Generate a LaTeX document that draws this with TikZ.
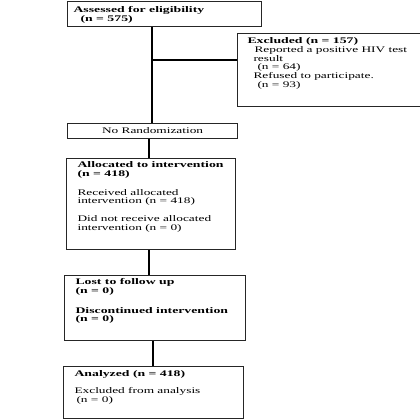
\documentclass[tikz,border=0pt]{standalone}
\usepackage{fontspec}
\setmainfont{Liberation Serif}[FakeStretch=1.55,BoldFeatures={FakeStretch=1.6}]
\newcommand\cbx[5]{%
  \begin{minipage}[t][#2][t]{#1}\raggedright\leftskip=#3\relax
  \fontsize{8.6bp}{8.8bp}\selectfont\rule{0pt}{#4}#5\end{minipage}}
\begin{document}
\begin{tikzpicture}[x=1bp,y=-1bp,
  box/.style={draw=black!85, line width=1.1bp, inner sep=0pt, anchor=north west},
  link/.style={draw=black, line width=1.3bp}]
\useasboundingbox[fill=white] (0,0) rectangle (420,420);
\node[box] (assess) at (67,1) {\cbx{194bp}{25bp}{6bp}{11bp}{%
  \textbf{Assessed for eligibility}\\\hspace*{7bp}\textbf{(n = 575)}}};
\node[box] (excl) at (237,33) {\cbx{190bp}{73bp}{10bp}{10bp}{%
  \textbf{Excluded (n = 157)}\\
  \hspace*{7bp}Reported a positive HIV test\\
  \hspace*{6bp}result\\
  \hspace*{10bp}(n = 64)\\
  \hspace*{6bp}Refused to participate.\\
  \hspace*{10bp}(n = 93)}};
\node[box] (norand) at (67,123) {\begin{minipage}[t][15bp][t]{170bp}\centering
  \fontsize{8.6bp}{8.8bp}\selectfont\rule{0pt}{10bp}No Randomization\end{minipage}};
\node[box] (alloc) at (66,158) {\cbx{169bp}{91bp}{11bp}{9bp}{%
  \textbf{Allocated to intervention}\\\textbf{(n = 418)}\\[10bp]
  Received allocated\\intervention (n = 418)\\[9bp]
  Did not receive allocated\\intervention (n = 0)}};
\node[box] (lost) at (64,275) {\cbx{181bp}{65bp}{11bp}{9bp}{%
  \textbf{Lost to follow up}\\\textbf{(n = 0)}\\[11bp]
  \textbf{Discontinued intervention}\\\textbf{(n = 0)}}};
\node[box] (anal) at (63,366) {\cbx{180bp}{52bp}{11bp}{10bp}{%
  \textbf{Analyzed (n = 418)}\\[8bp]
  Excluded from analysis\\\hspace*{2bp}(n = 0)}};
\coordinate (br) at (152,60);
\coordinate (ca) at (149,0);
\coordinate (cb) at (153,0);
\draw[link] (assess.south -| br) -- (norand.north -| br);
\draw[link] (br) -- (excl.west |- br);
\draw[link] (norand.south -| ca) -- (alloc.north -| ca);
\draw[link] (alloc.south -| ca) -- (lost.north -| ca);
\draw[link] (lost.south -| cb) -- (anal.north -| cb);
\end{tikzpicture}
\end{document}
